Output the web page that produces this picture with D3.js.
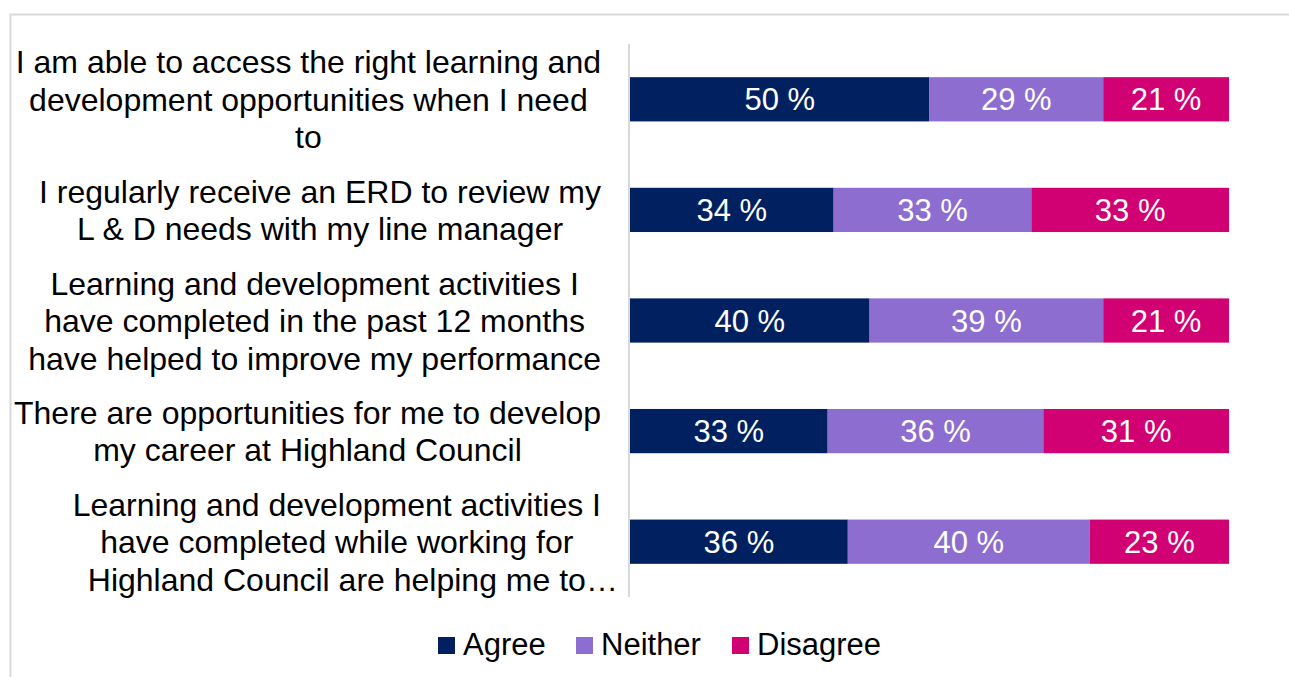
<!DOCTYPE html>
<html>
<head>
<meta charset="utf-8">
<script src="https://cdn.jsdelivr.net/npm/d3@7"></script>
<style>
  html, body { margin: 0; padding: 0; background: #fff; }
  svg { display: block; font-family: "Liberation Sans", Arial, sans-serif; }
</style>
</head>
<body>
<div id="chart"></div>
<script>
// ── Data ──
const questions = [
    ["I am able to access the right learning and", "development opportunities when I need", "to"],
    ["I regularly receive an ERD to review my", "L & D needs with my line manager"],
    ["Learning and development activities I", "have completed in the past 12 months", "have helped to improve my performance"],
    ["There are opportunities for me to develop", "my career at Highland Council"],
    ["Learning and development activities I", "have completed while working for", "Highland Council are helping me to\u2026"]
];
const seriesNames = ["Agree", "Neither", "Disagree"];
const agree    = [50, 34, 40, 33, 36];
const neither  = [29, 33, 39, 36, 40];
const disagree = [21, 33, 21, 31, 23];
const colors = ["#002060", "#8e6dd0", "#d10073"];

const WIDTH = 1289;
const HEIGHT = 677;

const rows = questions.map((q, i) => ({ i, agree: agree[i], neither: neither[i], disagree: disagree[i] }));

const svg = d3.select("#chart")
    .append("svg")
    .attr("width", WIDTH)
    .attr("height", HEIGHT);

// chart frame (runs off the right / bottom of the picture)
svg.append("rect")
    .attr("x", 10.5).attr("y", 14.5)
    .attr("width", WIDTH + 20).attr("height", HEIGHT + 20)
    .attr("fill", "none")
    .attr("stroke", "#d9d9d9")
    .attr("stroke-width", 2);

// ── Scales ──
const x = d3.scaleLinear().domain([0, 1]).range([630, 1229]);
const y = d3.scaleBand().domain(d3.range(questions.length)).range([44, 597]).paddingInner(0.6).paddingOuter(0.3);

// 100% stacked
const stack = d3.stack().keys(["agree", "neither", "disagree"]).offset(d3.stackOffsetExpand);
const series = stack(rows);

const g = svg.append("g");
series.forEach((s, si) => {
    g.selectAll(null)
        .data(s)
        .enter()
        .append("rect")
        .attr("x", d => x(d[0]))
        .attr("y", d => y(d.data.i))
        .attr("width", d => x(d[1]) - x(d[0]))
        .attr("height", y.bandwidth())
        .attr("fill", colors[si]);

    g.selectAll(null)
        .data(s)
        .enter()
        .append("text")
        .attr("x", d => (x(d[0]) + x(d[1])) / 2)
        .attr("y", d => y(d.data.i) + y.bandwidth() / 2)
        .attr("dy", "0.36em")
        .attr("text-anchor", "middle")
        .attr("fill", "#fff")
        .attr("font-size", 31)
        .text(d => d.data[s.key] + " %");
});

// category axis line
svg.append("line")
    .attr("x1", 629).attr("x2", 629)
    .attr("y1", 44).attr("y2", 597)
    .attr("stroke", "#d9d9d9")
    .attr("stroke-width", 2);

// ── Category labels (multi-line, centred within a right-aligned block) ──
// a truncated line is centred on its text without the trailing ellipsis
const LINE_H = 37.5;
const labelRight = 601;
questions.forEach((lines, i) => {
    const cy = y(i) + y.bandwidth() / 2;
    const lg = svg.append("g");
    const items = lines.map((line, li) => {
        const t = lg.append("text")
            .attr("y", cy + (li - (lines.length - 1) / 2) * LINE_H)
            .attr("dy", "0.36em")
            .attr("font-size", 32)
            .attr("fill", "#000")
            .text(line.replace(/\u2026$/, ""));
        const w = t.node().getComputedTextLength();
        t.text(line);
        return { t, w };
    });
    const maxW = d3.max(items, d => d.w);
    const cx = labelRight - maxW / 2;
    items.forEach(d => d.t.attr("x", cx - d.w / 2));
});

// ── Legend ──
const legendX = [438, 576, 732];
seriesNames.forEach((name, i) => {
    svg.append("rect")
        .attr("x", legendX[i]).attr("y", 637)
        .attr("width", 17).attr("height", 17)
        .attr("fill", colors[i]);
    svg.append("text")
        .attr("x", legendX[i] + 25).attr("y", 655)
        .attr("font-size", 31)
        .attr("fill", "#000")
        .text(name);
});
</script>
</body>
</html>
